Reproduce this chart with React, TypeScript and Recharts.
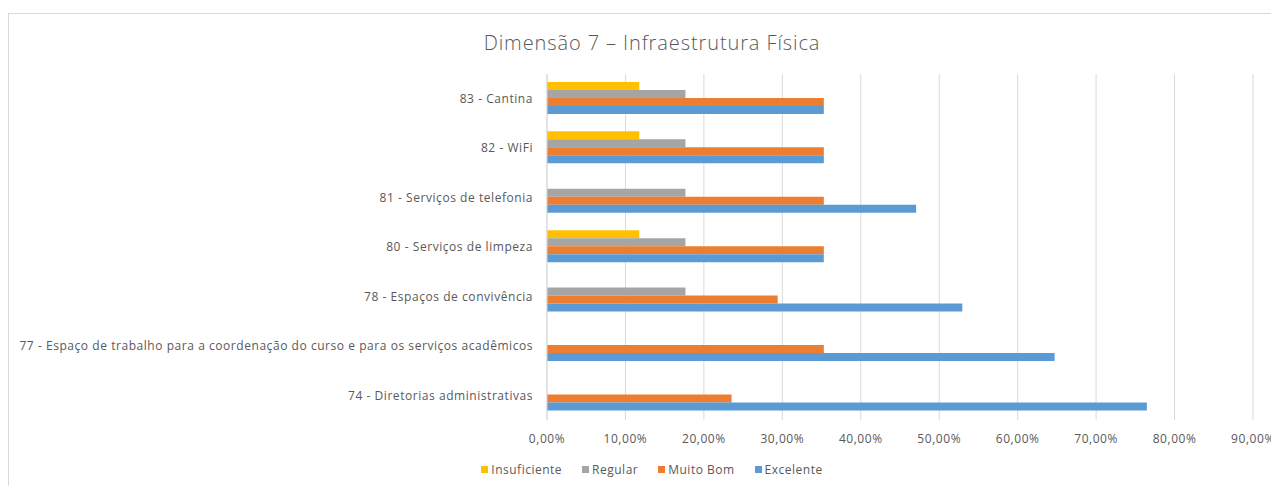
import React from "react";
import { BarChart, Bar, XAxis, YAxis, CartesianGrid, Legend } from "recharts";

const categories = [
  "83 - Cantina",
  "82 - WiFi",
  "81 - Serviços de telefonia",
  "80 - Serviços de limpeza",
  "78 - Espaços de convivência",
  "77 - Espaço de trabalho para a coordenação do curso e para os serviços acadêmicos",
  "74 - Diretorias administrativas",
];

// shares of answers per item (fractions of 1)
const insuficiente = [0.1176, 0.1176, 0, 0.1176, 0, 0, 0];
const regular = [0.1765, 0.1765, 0.1765, 0.1765, 0.1765, 0, 0];
const muitoBom = [0.3529, 0.3529, 0.3529, 0.3529, 0.2941, 0.3529, 0.2353];
const excelente = [0.3529, 0.3529, 0.4706, 0.3529, 0.5294, 0.6471, 0.7647];

const xTicks = [0, 0.1, 0.2, 0.3, 0.4, 0.5, 0.6, 0.7, 0.8, 0.9];

const series = [
  { key: "insuficiente", name: "Insuficiente", color: "#FFC000" },
  { key: "regular", name: "Regular", color: "#A5A5A5" },
  { key: "muitoBom", name: "Muito Bom", color: "#ED7D31" },
  { key: "excelente", name: "Excelente", color: "#5B9BD5" },
];

const data = categories.map((name, i) => ({
  name,
  insuficiente: insuficiente[i],
  regular: regular[i],
  muitoBom: muitoBom[i],
  excelente: excelente[i],
}));

const FONT = "'Open Sans', Lato, sans-serif";
const TEXT = "#595959";
const GRID = "#d9d9d9";

const pct = (v: number) => (v * 100).toFixed(2).replace(".", ",") + "%";

const tickStyle = { fill: TEXT, fontSize: 12, fontFamily: FONT, letterSpacing: 0.55 };

function LegendRow() {
  return (
    <div
      style={{
        display: "flex",
        justifyContent: "center",
        paddingLeft: 42,
        fontFamily: FONT,
        fontSize: 12,
        letterSpacing: 0.5,
        color: TEXT,
        gap: 20,
      }}
    >
      {series.map((s) => (
        <span key={s.key} style={{ display: "flex", alignItems: "center" }}>
          <span
            style={{ width: 7, height: 7, background: s.color, marginRight: 3, display: "inline-block" }}
          />
          {s.name}
        </span>
      ))}
    </div>
  );
}

export default function App() {
  return (
    <div
      style={{
        position: "relative",
        marginTop: 5,
        width: 1271,
        height: 473,
        borderTop: `1px solid ${GRID}`,
        borderLeft: `1px solid ${GRID}`,
        boxSizing: "border-box",
        overflow: "hidden",
        background: "#fff",
      }}
    >
      <div
        style={{
          position: "absolute",
          top: 15,
          left: 0,
          width: 1271,
          paddingLeft: 15,
          boxSizing: "border-box",
          textAlign: "center",
          fontFamily: FONT,
          fontWeight: 300,
          fontSize: 20,
          letterSpacing: 0.9,
          color: TEXT,
        }}
      >
        Dimensão 7 – Infraestrutura Física
      </div>
      <BarChart
        width={1270}
        height={472}
        data={data}
        layout="vertical"
        margin={{ top: 60, right: 26, left: 0, bottom: 8 }}
        barCategoryGap="16%"
        barGap={0}
      >
        <CartesianGrid horizontal={false} stroke={GRID} />
        <XAxis
          type="number"
          domain={[0, 0.9]}
          ticks={xTicks}
          tickFormatter={pct}
          axisLine={false}
          tickLine={false}
          tickSize={0}
          tickMargin={14}
          height={41}
          interval={0}
          tick={tickStyle}
        />
        <YAxis
          type="category"
          dataKey="name"
          width={538}
          axisLine={{ stroke: GRID }}
          tickLine={false}
          tickSize={0}
          tickMargin={14}
          interval={0}
          tick={tickStyle}
        />
        <Legend verticalAlign="bottom" content={() => <LegendRow />} />
        {series.map((s) => (
          <Bar key={s.key} dataKey={s.key} name={s.name} fill={s.color} isAnimationActive={false} />
        ))}
      </BarChart>
    </div>
  );
}
